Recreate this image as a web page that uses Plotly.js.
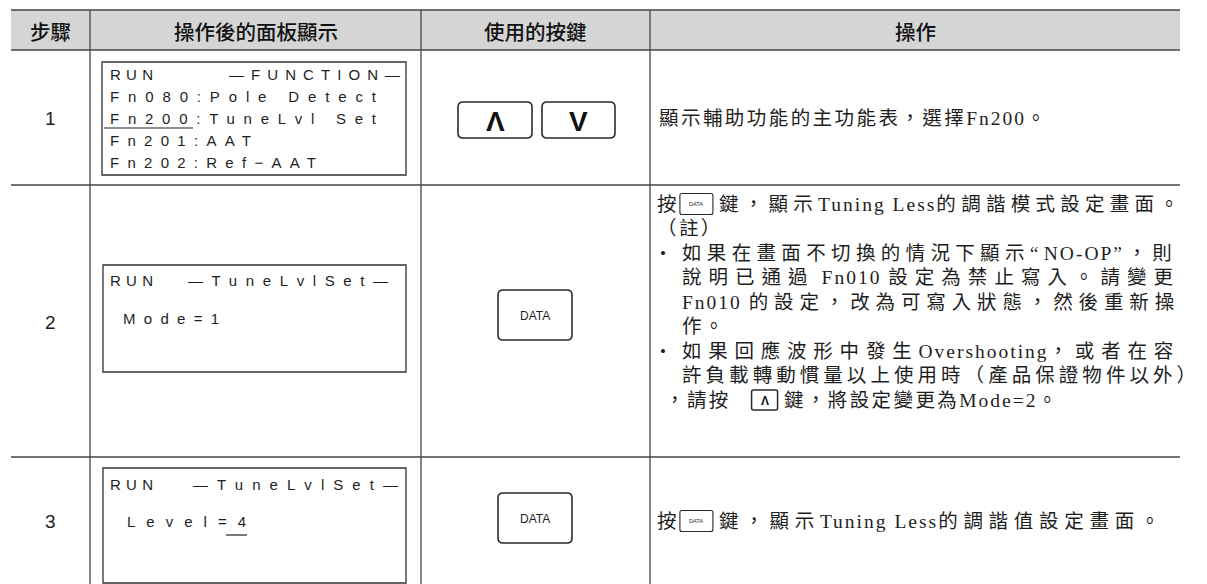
<!DOCTYPE html>
<html>
<head>
<meta charset="utf-8">
<script src="https://cdn.plot.ly/plotly-3.0.1.min.js"></script>
<style>html,body{margin:0;padding:0;background:#fff;}#chart{width:1207px;height:584px;}</style>
</head>
<body>
<div id="chart"></div>
<script>
// ---------- content ----------
const headers = ['步驟', '操作後的面板顯示', '使用的按鍵', '操作'];
const steps = ['1', '2', '3'];
const panelTop1 = ['RUN', '—FUNCTION—'];
const panelLines1 = ['Fn080:Pole Detect', 'Fn200:TuneLvl Set', 'Fn201:AAT', 'Fn202:Ref−AAT'];
const panelTop2 = ['RUN', '—TuneLvlSet—'];
const panelLines2 = ['Mode=1'];
const panelTop3 = ['RUN', '—TuneLvlSet—'];
const panelLines3 = ['Level=4'];
const keys1 = ['Λ', 'V'];
const keys2 = ['DATA'];
const keys3 = ['DATA'];
const action1 = ['顯示輔助功能的主功能表，選擇Fn200。'];
const action2 = [
  '按{DATA}鍵，顯示Tuning Less的調諧模式設定畫面。',
  '（註）',
  '•如果在畫面不切換的情況下顯示“NO-OP”，則',
  '說明已通過 Fn010 設定為禁止寫入。請變更',
  'Fn010 的設定，改為可寫入狀態，然後重新操',
  '作。',
  '•如果回應波形中發生Overshooting，或者在容',
  '許負載轉動慣量以上使用時（產品保證物件以外）',
  '，請按 {UP}鍵，將設定變更為Mode=2。'
];
const action3 = ['按{DATA}鍵，顯示Tuning Less的調諧值設定畫面。'];

// ---------- layout helpers ----------
const LINE = '#454545';
const TXT = '#1e1e1e';
const HDR_FONT = '"Noto Sans CJK TC", "Noto Sans", sans-serif';
const BODY_FONT = '"Liberation Serif", "Noto Sans CJK TC", serif';
const LCD_FONT = '"Liberation Sans", Arial, sans-serif';
const KEY_FONT = '"Liberation Sans", Arial, sans-serif';

const cv = document.createElement('canvas').getContext('2d');
function measure(str, size, fam) { cv.font = size + 'px ' + fam; return cv.measureText(str).width; }
function spacingFor(str, size, fam, width) {
  const n = Array.from(str).length;
  if (n < 2) return 0;
  return (width - measure(str, size, fam)) / (n - 1);
}

const shapes = [];
const annotations = [];

function ann(x, y, text, size, fam, opts) {
  annotations.push(Object.assign({
    x: x, y: y, xref: 'x', yref: 'y', text: text, showarrow: false,
    xanchor: 'left', yanchor: 'middle', borderpad: 0, borderwidth: 0,
    font: {family: fam, size: size, color: TXT}
  }, opts || {}));
}
function spaced(str, ls) {
  return '<span style="letter-spacing:' + ls.toFixed(2) + 'px">' + str + '</span>';
}
// extra spacing goes mostly to full-width characters (justified CJK text)
const LAT_LS = 2.0;
const CJK_LS = 2.4;
const isLat = c => /[\x20-\x7E]/.test(c);
function cjkSpaced(str, lsC) {
  const runs = str.match(/[\x20-\x7E]+|[^\x20-\x7E]+/g) || [];
  return runs.map(r => spaced(r, isLat(r[0]) ? LAT_LS : lsC)).join('');
}
function cjkWidth(str, size, fam, lsC) {
  const chars = Array.from(str);
  const nL = chars.filter(isLat).length;
  return measure(str, size, fam) + nL * LAT_LS + (chars.length - nL) * lsC;
}
function bodySpan(x0, x1, y, str, size, fam) {
  let lsC = CJK_LS;
  if (x1 != null) {
    const chars = Array.from(str);
    const nL = chars.filter(isLat).length;
    const nC = chars.length - nL;
    lsC = (x1 - x0 - measure(str, size, fam) - nL * LAT_LS) / Math.max(nC, 1);
  }
  ann(x0, y, cjkSpaced(str, lsC), size, fam);
}
function textSpan(x0, x1, y, str, size, fam) {
  const ls = spacingFor(str, size, fam, x1 - x0);
  ann(x0, y, spaced(str, ls), size, fam);
}
function line(x0, y0, x1, y1, w, c) {
  shapes.push({type: 'line', xref: 'x', yref: 'y', x0: x0, y0: y0, x1: x1, y1: y1,
    line: {color: c || LINE, width: w || 1.3}});
}
function rect(x0, y0, x1, y1, w) {
  shapes.push({type: 'rect', xref: 'x', yref: 'y', x0: x0, y0: y0, x1: x1, y1: y1,
    line: {color: '#333', width: w || 1.3}, fillcolor: 'rgba(0,0,0,0)'});
}
function rrect(x0, y0, x1, y1, r, w) {
  const p = 'M' + (x0 + r) + ',' + y0 + ' L' + (x1 - r) + ',' + y0 + ' Q' + x1 + ',' + y0 + ' ' + x1 + ',' + (y0 + r) +
    ' L' + x1 + ',' + (y1 - r) + ' Q' + x1 + ',' + y1 + ' ' + (x1 - r) + ',' + y1 +
    ' L' + (x0 + r) + ',' + y1 + ' Q' + x0 + ',' + y1 + ' ' + x0 + ',' + (y1 - r) +
    ' L' + x0 + ',' + (y0 + r) + ' Q' + x0 + ',' + y0 + ' ' + (x0 + r) + ',' + y0 + ' Z';
  shapes.push({type: 'path', xref: 'x', yref: 'y', path: p, line: {color: '#2a2a2a', width: w || 1.6}});
}

// ---------- table grid ----------
const TL = 11, TR = 1180, TOP = 10, HB = 50;
const colX = [TL, 90, 421, 650, TR];
const rowY = [HB, 185, 457, 584];
shapes.push({type: 'rect', xref: 'x', yref: 'y', x0: TL, y0: TOP, x1: TR, y1: HB, layer: 'below',
  line: {width: 0}, fillcolor: '#d5d5d5'});
line(TL, TOP, TR, TOP, 1.5);
line(TL, HB, TR, HB, 1.5);
line(TL, rowY[1], TR, rowY[1]);
line(TL, rowY[2], TR, rowY[2]);
for (let i = 1; i <= 3; i++) line(colX[i], TOP, colX[i], 584);

headers.forEach((h, i) => {
  ann((colX[i] + colX[i + 1]) / 2, (TOP + HB) / 2 + 1, h, 20.5, HDR_FONT,
    {xanchor: 'center', font: {family: HDR_FONT, size: 20.5, color: '#111', weight: 500}});
});
steps.forEach((s, i) => {
  ann(50, (rowY[i] + rowY[i + 1]) / 2 + 1, s, 19, LCD_FONT, {xanchor: 'center'});
});

// ---------- LCD panels ----------
const LCD_SIZE = 15;
function lcdText(x0, x1, y, str) { textSpan(x0, x1, y, str, LCD_SIZE, LCD_FONT); }
// panel 1
rect(102, 62, 406, 175);
lcdText(110, 153, 74, panelTop1[0]);
lcdText(229, 400, 74, panelTop1[1]);
const p1Ends = [376, 376, 251, 316];
panelLines1.forEach((s, i) => lcdText(110, p1Ends[i], 96 + 22 * i, s));
line(104, 128, 193, 128, 1.2, '#222');
// panel 2
rect(103, 265, 406, 372);
lcdText(110, 153, 280, panelTop2[0]);
lcdText(188, 388, 280, panelTop2[1]);
lcdText(123, 219, 318, panelLines2[0]);
// panel 3
rect(103, 468, 406, 583);
lcdText(110, 153, 484, panelTop3[0]);
lcdText(193, 398, 484, panelTop3[1]);
lcdText(127, 246, 521, panelLines3[0]);
line(226, 535, 247, 535, 1.2, '#222');

// ---------- keys ----------
const arrowBoxes = [[458, 532], [542, 615]];
keys1.forEach((k, i) => {
  rrect(arrowBoxes[i][0], 102, arrowBoxes[i][1], 138, 5);
  ann((arrowBoxes[i][0] + arrowBoxes[i][1]) / 2, 121, k, 28, KEY_FONT,
    {xanchor: 'center', font: {family: KEY_FONT, size: 28, color: '#111', weight: 'bold'}});
});
rrect(498, 290, 572, 340, 5);
ann(535, 316, keys2[0], 12, KEY_FONT, {xanchor: 'center'});
rrect(498, 493, 572, 543, 5);
ann(535, 519, keys3[0], 12, KEY_FONT, {xanchor: 'center'});

// ---------- action text ----------
const BS = 19.5;
function inlineKey(kind, x0, y) {
  if (kind === 'DATA') {
    rrect(x0, y - 10.5, x0 + 33, y + 10.5, 2, 1.1);
    ann(x0 + 16.5, y, 'DATA', 5.5, KEY_FONT, {xanchor: 'center'});
    return x0 + 33;
  }
  rrect(x0, y - 10, x0 + 26, y + 10, 2, 1.5);
  ann(x0 + 13, y + 1, 'Λ', 12, KEY_FONT, {xanchor: 'center', font: {family: KEY_FONT, size: 12, color: '#111', weight: 'bold'}});
  return x0 + 26;
}
function actionLine(str, x0, end, y, opt) {
  let x = x0;
  if (str.startsWith('•')) {
    ann(x0 + 3, y, '•', 17, BODY_FONT);
    str = str.slice(1);
    x = x0 + 25;
  }
  const m = str.match(/^(.*?)\{(DATA|UP)\}(.*)$/);
  if (m) {
    ann(x, y, cjkSpaced(m[1], CJK_LS), BS, BODY_FONT);
    const kx = x + cjkWidth(m[1], BS, BODY_FONT, CJK_LS) + (opt.gap || 1);
    const after = inlineKey(m[2], kx, y) + 6;
    bodySpan(after, end, y, m[3], BS, BODY_FONT);
  } else {
    bodySpan(x, end, y, str, BS, BODY_FONT);
  }
}
const AX = 657;
actionLine(action1[0], AX + 2, 1048, 118, {});
const a2Start = [AX, AX, AX, AX + 25, AX + 25, AX + 25, AX, AX + 25, AX + 8];
const a2End = [1184, null, 1177, 1180, 1180, null, 1180, 1200, null];
action2.forEach((s, i) => {
  actionLine(s, a2Start[i], a2End[i], 204 + 24.5 * i, {gap: i === 8 ? 14 : 1});
});
actionLine(action3[0], AX, 1165, 521, {});

// ---------- plot ----------
const data = [{x: [0], y: [0], type: 'scatter', mode: 'markers', marker: {opacity: 0}, hoverinfo: 'skip', showlegend: false}];
const layout = {
  width: 1207, height: 584,
  margin: {l: 0, r: 0, t: 0, b: 0, pad: 0},
  paper_bgcolor: '#fff', plot_bgcolor: '#fff',
  xaxis: {range: [0, 1207], visible: false, fixedrange: true},
  yaxis: {range: [584, 0], visible: false, fixedrange: true},
  shapes: shapes, annotations: annotations, showlegend: false
};
Plotly.newPlot('chart', data, layout, {displayModeBar: false, staticPlot: true});
</script>
</body>
</html>
